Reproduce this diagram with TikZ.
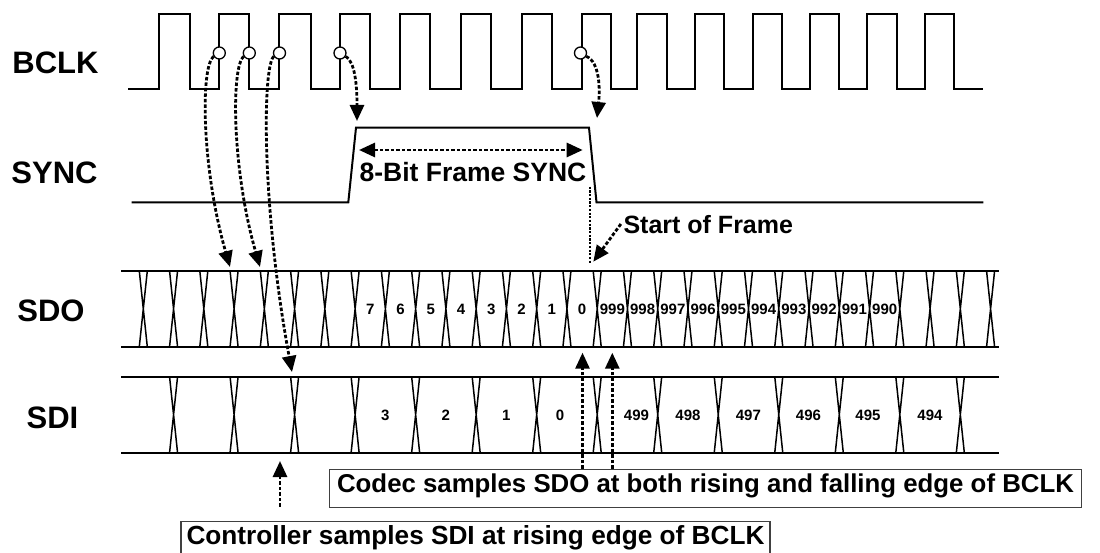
\documentclass[tikz,border=0pt]{standalone}
\usepackage{fontspec}
\setmainfont{Liberation Sans}
\usetikzlibrary{arrows.meta}
\begin{document}
\begin{tikzpicture}[x=1pt,y=-1pt,
  sig/.style={line width=2pt, line join=miter},
  bus/.style={line width=2.3pt},
  xing/.style={line width=1.5pt},
  tipA/.tip={Triangle[length=16pt,width=14pt]},
  dashln/.style={line width=2.8pt, dash pattern=on 3.5pt off 2pt},
  darr/.style={dashln, -tipA},
  dotln/.style={line width=2.4pt, dash pattern=on 2.2pt off 1.5pt},
  circ/.style={circle, draw, fill=white, minimum size=12pt, inner sep=0pt, line width=1.3pt},
  lbl/.style={font=\bfseries\fontsize{31}{36}\selectfont, inner sep=0pt},
  ann/.style={font=\bfseries\fontsize{25.6}{30}\selectfont, inner sep=0pt},
  val/.style={font=\bfseries\fontsize{15}{18}\selectfont, inner sep=0pt},
  notebox/.style={draw=black!75, line width=1.1pt, text height=0.9em, text depth=0.184em, minimum height=38.4pt, inner sep=0pt}
]
\useasboundingbox (0,0) rectangle (1100,553);
\clip (0,0) rectangle (1100,553);

% signal names
\node[lbl] (nbclk) at (55.5,62.5) {BCLK};
\node[lbl] (nsync) at (54.5,172.5) {SYNC};
\node[lbl] (nsdo) at (51,311) {SDO};
\node[lbl] (nsdi) at (52.5,417.5) {SDI};

% BCLK
\draw[sig] (128,89.3)
  \foreach \r/\f in {159.3/190, 219.3/249.3, 279.3/310.7, 340/370, 400/430, 460.7/490.7, 521.7/551.7, 581.7/611, 637.3/666.7, 695/724, 752.7/781.7, 810/839.3, 867.3/896.7, 925/954}
  { -- (\r,89.3) -- (\r,14) -- (\f,14) -- (\f,89.3) } -- (983.3,89.3);

% SYNC
\draw[sig] (131.7,202.3) -- (348.3,202.3) -- (356,127.7) -- (589,127.7) -- (596.5,202.3) -- (983.3,202.3);

% SDO bus
\draw[bus] (121,271) -- (999,271);
\draw[bus] (121,346.7) -- (999,346.7);
\foreach \i in {0,...,28} {
  \pgfmathsetmacro\cx{143.3+30.26*\i}
  \draw[xing] (\cx-4,271) -- (\cx+4,346.7) (\cx+4,271) -- (\cx-4,346.7);
}
\foreach \v [count=\i from 7] in {7,6,5,4,3,2,1,0,999,998,997,996,995,994,993,992,991,990} {
  \node[val] (sdo\i) at ({143.3+30.26*(\i+0.5)},309) {\v};
}

% SDI bus
\draw[bus] (121,376.7) -- (999,376.7);
\draw[bus] (121,452.7) -- (999,452.7);
\foreach \k in {0,...,13} {
  \pgfmathsetmacro\cx{173.56+60.52*\k}
  \draw[xing] (\cx-4,376.7) -- (\cx+4,452.7) (\cx+4,376.7) -- (\cx-4,452.7);
}
\foreach \v/\x [count=\i] in {3/385.2, 2/445.7, 1/506.2, 0/560, 499/636.5, 498/688, 497/748.4, 496/808.5, 495/868, 494/930} {
  \node[val] (sdi\i) at (\x,415) {\v};
}

% sampling circles on BCLK
\node[circ] (c1) at (219.3,53) {};
\node[circ] (c2) at (249.3,53) {};
\node[circ] (c3) at (279.5,53) {};
\node[circ] (c4) at (340,53) {};
\node[circ] (c5) at (580.5,53) {};

% arrow targets
\coordinate (t1) at (230,267);
\coordinate (t2) at (260,267);
\coordinate (t3) at (292,372);
\coordinate (t4) at (357,121);
\coordinate (t5) at (597,118);

\draw[darr] (c1.210) .. controls (200,68) and (202,170) .. (t1);
\draw[darr] (c2.210) .. controls (231,68) and (232,170) .. (t2);
\draw[darr] (c3.210) .. controls (262,68) and (262,210) .. (t3);
\draw[darr] (c4.-30) .. controls (355,62) and (357,85) .. (t4);
\draw[darr] (c5.-30) .. controls (600,62) and (600,90) .. (t5);

% 8-bit frame sync
\coordinate (f1) at (359,150);
\coordinate (f2) at (582.7,150);
\draw[dashln, tipA-tipA] (f1) -- (f2);
\node[font=\bfseries\fontsize{26.5}{30}\selectfont, inner sep=0pt] (fsync) at (473,172.5) {8-Bit Frame SYNC};

% start of frame
\coordinate (sfa) at (590,186.7);
\coordinate (sfb) at (590,263.3);
\draw[dotln] (sfa) -- (sfb);
\node[ann, font=\bfseries\fontsize{25}{30}\selectfont] (sof) at (708.3,225) {Start of Frame};
\coordinate (soft) at (593.3,261.7);
\draw[darr] ([xshift=-2.5pt,yshift=1pt]sof.west) -- (soft);

% codec note
\node[notebox, minimum width=752.4pt, font=\bfseries\fontsize{25.8}{30}\selectfont] (codec) at (705.5,488.5) {Codec samples SDO at both rising and falling edge of BCLK};
\coordinate (a1) at (582.5,352.7);
\coordinate (a2) at (612.3,352.7);
\draw[darr] (a1 |- codec.north) -- (a1);
\draw[darr] (a2 |- codec.north) -- (a2);

% controller note
\node[notebox, minimum width=589pt, font=\bfseries\fontsize{26.2}{30}\selectfont] (ctrl) at (475.5,540.9) {Controller samples SDI at rising edge of BCLK};
\coordinate (cs) at (280,506.7);
\coordinate (ct) at (280,461);
\draw[darr] (cs) -- (ct);

\end{tikzpicture}
\end{document}
